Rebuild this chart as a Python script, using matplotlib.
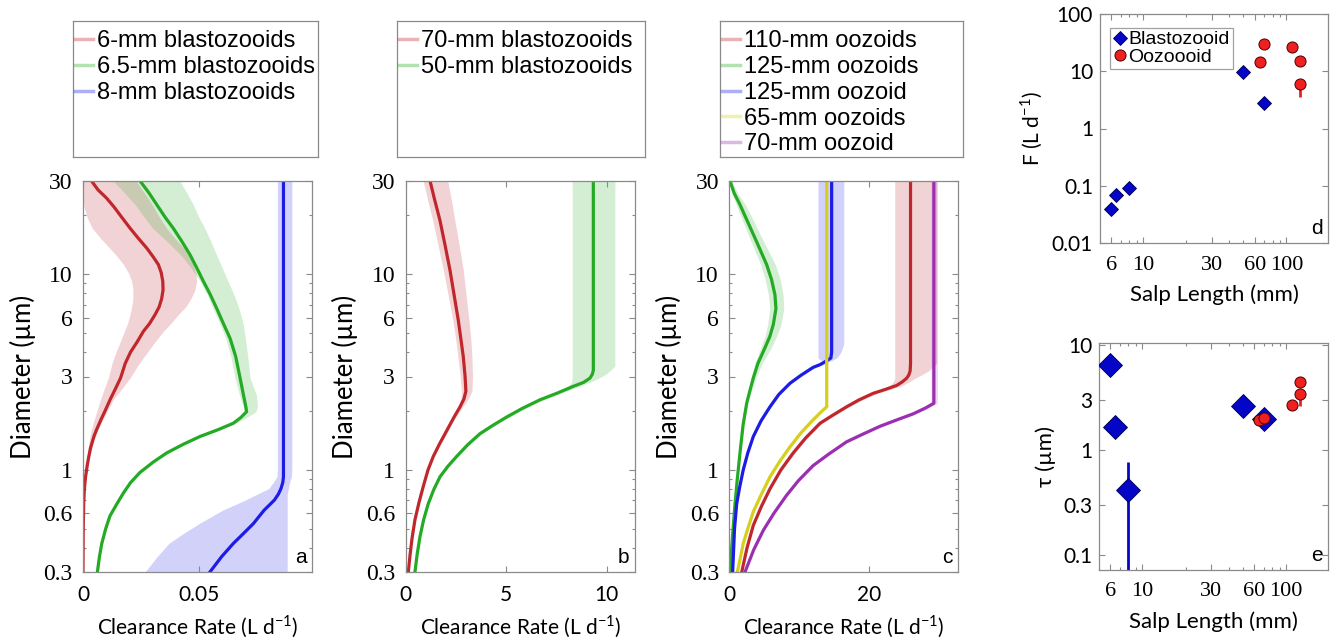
import matplotlib
matplotlib.use("Agg")
import matplotlib.pyplot as plt
from matplotlib.lines import Line2D
from matplotlib.ticker import FixedLocator, NullFormatter, LogLocator

SANS = ["Lato", "DejaVu Sans"]
SERIF = "Liberation Serif"
LEGF = "Liberation Sans"

RED = "#c0272d"
GREEN = "#24aa24"
BLUE = "#1c1ce6"
YELLOW = "#d6cf1e"
PURPLE = "#9b2fb2"
SPINE = "#8a8a8a"

# ---- panel a : clearance rate vs particle diameter (blastozooids) ----
a_red_d = [30, 27, 24.5, 22, 19.5, 17.2, 15.3, 13.6, 12.3, 11.2, 10.2, 9.2, 8.3, 7.5, 6.8, 6.2, 5.6, 5.1, 4.5,
           4.0, 3.5, 2.95, 2.6, 2.3, 2.0, 1.8, 1.6, 1.48, 1.3, 1.17, 1.05, 0.92, 0.8, 0.67, 0.5, 0.3]
a_red_cr = [0.0037, 0.0065, 0.0102, 0.0135, 0.0168, 0.0203, 0.0238, 0.0275, 0.0302, 0.0325, 0.0337, 0.0344,
            0.0345, 0.0339, 0.0328, 0.031, 0.0287, 0.026, 0.0233, 0.0205, 0.0182, 0.0162, 0.014, 0.0118,
            0.0095, 0.0077, 0.0058, 0.0047, 0.0033, 0.0025, 0.0018, 0.0011, 0.0006, 0.0003, 0.0001, 0.0]
a_red_lo = [0.0, 0.0, 0.0, 0.0005, 0.0018, 0.004, 0.0075, 0.0115, 0.0148, 0.0175, 0.0195, 0.021, 0.0215,
            0.0215, 0.021, 0.0202, 0.0192, 0.0178, 0.016, 0.0142, 0.0125, 0.0109, 0.0092, 0.0076, 0.006,
            0.0048, 0.0036, 0.003, 0.0022, 0.0018, 0.0013, 0.0008, 0.0004, 0.0002, 0.0, 0.0]
a_red_hi = [0.023, 0.0255, 0.028, 0.0305, 0.033, 0.036, 0.0395, 0.0435, 0.0458, 0.0475, 0.0486, 0.049,
            0.0482, 0.0465, 0.0442, 0.041, 0.0378, 0.0346, 0.031, 0.0278, 0.0242, 0.0203, 0.0168, 0.0132,
            0.0105, 0.0085, 0.0065, 0.0053, 0.0038, 0.0029, 0.0021, 0.0013, 0.0007, 0.0004, 0.0001, 0.0]

a_grn_d = [30, 26, 22.7, 19.5, 17.2, 14.8, 12.6, 10.8, 9.2, 7.9, 6.7, 5.6, 4.7, 3.8, 2.95, 2.4, 2.1, 1.98,
           1.85, 1.73, 1.6, 1.48, 1.35, 1.22, 1.1, 0.97, 0.86, 0.76, 0.66, 0.58, 0.5, 0.42, 0.36, 0.3]
a_grn_cr = [0.0246, 0.0285, 0.0318, 0.0355, 0.0389, 0.0425, 0.0461, 0.049, 0.0519, 0.0548, 0.0576, 0.0605,
            0.0634, 0.0658, 0.0677, 0.0692, 0.0702, 0.0705, 0.068, 0.0648, 0.058, 0.0504, 0.0432, 0.0361,
            0.0305, 0.0246, 0.0205, 0.0174, 0.0143, 0.0116, 0.0098, 0.0081, 0.0071, 0.0062]
a_grn_lo = [0.0131, 0.018, 0.0225, 0.0265, 0.030, 0.036, 0.042, 0.0465, 0.0505, 0.0535, 0.056, 0.059,
            0.0615, 0.0637, 0.0655, 0.0675, 0.069, 0.0695, 0.067, 0.0638, 0.057, 0.0496, 0.0425, 0.0355,
            0.030, 0.0242, 0.0202, 0.0171, 0.0141, 0.0114, 0.0096, 0.008, 0.007, 0.0061]
a_grn_hi = [0.0418, 0.0448, 0.0475, 0.050, 0.0525, 0.055, 0.0575, 0.060, 0.0625, 0.065, 0.0672, 0.069,
            0.070, 0.071, 0.072, 0.0748, 0.0752, 0.0745, 0.0705, 0.066, 0.059, 0.0514, 0.044, 0.0368,
            0.031, 0.025, 0.0208, 0.0177, 0.0145, 0.0118, 0.010, 0.0082, 0.0072, 0.0063]

a_blu_d = [30, 1.0, 0.92, 0.86, 0.8, 0.75, 0.7, 0.62, 0.53, 0.47, 0.42, 0.36, 0.3]
a_blu_cr = [0.0864, 0.0864, 0.0864, 0.0861, 0.0853, 0.0842, 0.0825, 0.078, 0.0734, 0.069, 0.0648, 0.0598, 0.0547]
a_blu_lo = [0.0838, 0.0838, 0.0836, 0.082, 0.080, 0.075, 0.070, 0.060, 0.050, 0.043, 0.037, 0.032, 0.0267]
a_blu_hi = [0.090, 0.090, 0.0898, 0.089, 0.0885, 0.088, 0.088, 0.088, 0.088, 0.088, 0.088, 0.088, 0.088]

# ---- panel b ----
b_red_d = [30, 24, 18.9, 14, 10.5, 8, 5.84, 4.6, 3.79, 3.0, 2.52, 2.3, 2.1, 1.85, 1.58, 1.35, 1.17, 1.0,
           0.82, 0.68, 0.555, 0.45, 0.37, 0.3]
b_red_cr = [1.22, 1.45, 1.71, 1.97, 2.21, 2.40, 2.62, 2.76, 2.87, 2.96, 3.0, 2.9, 2.71, 2.40, 2.04, 1.68,
            1.38, 1.12, 0.88, 0.67, 0.47, 0.33, 0.23, 0.14]
b_red_lo = [0.88, 1.1, 1.35, 1.62, 1.88, 2.1, 2.35, 2.5, 2.6, 2.72, 2.78, 2.75, 2.62, 2.33, 1.98, 1.63,
            1.34, 1.09, 0.86, 0.65, 0.46, 0.32, 0.22, 0.13]
b_red_hi = [2.1, 2.28, 2.45, 2.67, 2.87, 3.0, 3.15, 3.25, 3.3, 3.33, 3.3, 3.1, 2.85, 2.48, 2.10, 1.73,
            1.42, 1.15, 0.90, 0.69, 0.48, 0.34, 0.24, 0.15]

b_grn_d = [30, 3.4, 3.23, 3.08, 2.94, 2.8, 2.67, 2.47, 2.28, 2.06, 1.86, 1.69, 1.53, 1.34, 1.17, 1.04,
           0.92, 0.79, 0.67, 0.555, 0.455, 0.37, 0.3]
b_grn_cr = [9.33, 9.33, 9.33, 9.28, 9.16, 8.85, 8.33, 7.55, 6.68, 5.8, 5.02, 4.35, 3.70, 3.08, 2.54, 2.1,
            1.71, 1.40, 1.13, 0.9, 0.72, 0.58, 0.47]
b_grn_lo = [8.28, 8.28, 8.28, 8.28, 8.28, 8.25, 8.05, 7.35, 6.55, 5.68, 4.92, 4.27, 3.63, 3.02, 2.49, 2.06,
            1.68, 1.37, 1.11, 0.88, 0.71, 0.57, 0.46]
b_grn_hi = [10.4, 10.4, 10.2, 9.95, 9.6, 9.15, 8.6, 7.75, 6.85, 5.95, 5.15, 4.45, 3.8, 3.15, 2.6, 2.15,
            1.75, 1.43, 1.15, 0.92, 0.73, 0.59, 0.48]

# ---- panel c (oozooids) ----
c_red_d = [30, 3.5, 3.2, 3.05, 2.94, 2.82, 2.7, 2.58, 2.46, 2.28, 2.1, 1.9, 1.73, 1.45, 1.22, 1.0, 0.8,
           0.65, 0.52, 0.4, 0.3]
c_red_cr = [25.96, 25.96, 25.9, 25.7, 25.4, 24.8, 23.97, 22.4, 20.6, 18.6, 16.8, 14.8, 13.0, 10.9, 9.16,
            7.4, 5.83, 4.6, 3.44, 2.55, 1.78]
c_red_lo = [23.7, 23.7, 23.7, 23.7, 23.7, 23.5, 23.0, 21.7, 20.1, 18.2, 16.4, 14.5, 12.7, 10.65, 8.95,
            7.25, 5.7, 4.5, 3.36, 2.5, 1.73]
c_red_hi = [29.7, 29.7, 28.5, 27.5, 26.6, 25.8, 24.8, 23.1, 21.2, 19.1, 17.2, 15.15, 13.3, 11.15, 9.4,
            7.6, 5.97, 4.7, 3.52, 2.62, 1.83]

c_grn_d = [30, 26, 22.7, 19, 16.0, 13.4, 11.2, 9.4, 7.85, 6.67, 5.53, 4.8, 4.2, 3.5, 2.95, 2.5, 2.19,
           1.7, 1.22, 0.9, 0.67, 0.45, 0.3]
c_grn_cr = [0.1, 0.7, 1.53, 2.5, 3.44, 4.4, 5.35, 6.05, 6.54, 6.68, 6.3, 5.8, 5.1, 4.1, 3.44, 2.9, 2.49,
            1.98, 1.53, 1.15, 0.82, 0.45, 0.1]
c_grn_lo = [0.0, 0.35, 1.0, 1.85, 2.7, 3.6, 4.5, 5.15, 5.6, 5.8, 5.5, 5.1, 4.5, 3.65, 3.15, 2.7, 2.35,
            1.9, 1.47, 1.1, 0.79, 0.43, 0.09]
c_grn_hi = [0.35, 1.2, 2.3, 3.4, 4.4, 5.5, 6.6, 7.3, 7.7, 7.8, 7.4, 6.75, 6.0, 4.7, 3.8, 3.1, 2.65,
            2.08, 1.6, 1.2, 0.85, 0.47, 0.11]

c_blu_d = [30, 4.4, 4.0, 3.73, 3.6, 3.45, 3.34, 3.05, 2.77, 2.43, 2.1, 1.78, 1.48, 1.22, 1.0, 0.82,
           0.67, 0.5, 0.3]
c_blu_cr = [14.66, 14.66, 14.66, 14.55, 13.9, 13.0, 12.0, 10.3, 8.69, 7.1, 5.83, 4.55, 3.44, 2.65, 2.0,
            1.5, 1.06, 0.75, 0.48]
c_blu_lo = [12.7, 12.7, 12.7, 12.7, 13.3, 12.6, 11.7, 10.05, 8.5, 6.95, 5.7, 4.45, 3.37, 2.6, 1.96,
            1.47, 1.04, 0.73, 0.47]
c_blu_hi = [16.4, 16.4, 16.0, 15.4, 14.5, 13.4, 12.3, 10.55, 8.9, 7.25, 5.95, 4.65, 3.5, 2.7, 2.04,
            1.53, 1.08, 0.77, 0.49]

c_yel_d = [30, 2.1, 2.0, 1.8, 1.55, 1.31, 1.1, 0.92, 0.75, 0.61, 0.5, 0.42, 0.35, 0.3]
c_yel_cr = [13.95, 13.95, 13.3, 12.0, 10.3, 8.69, 7.2, 5.83, 4.6, 3.44, 2.65, 2.0, 1.55, 1.15]
c_yel_lo = [13.8, 13.8, 13.15, 11.85, 10.17, 8.55, 7.1, 5.72, 4.52, 3.37, 2.6, 1.95, 1.51, 1.12]
c_yel_hi = [14.1, 14.1, 13.45, 12.15, 10.43, 8.83, 7.3, 5.94, 4.68, 3.51, 2.7, 2.05, 1.59, 1.18]

c_pur_d = [30, 2.19, 2.07, 1.93, 1.8, 1.67, 1.52, 1.39, 1.2, 1.05, 0.88, 0.74, 0.6, 0.49, 0.39, 0.3]
c_pur_cr = [29.3, 29.3, 28.1, 26.3, 24.0, 21.6, 19.1, 16.8, 14.2, 12.0, 9.9, 8.2, 6.4, 4.87, 3.5, 2.25]
c_pur_lo = [28.9, 28.9, 27.8, 26.0, 23.75, 21.35, 18.9, 16.6, 14.0, 11.85, 9.8, 8.1, 6.3, 4.8, 3.45, 2.22]
c_pur_hi = [29.8, 29.8, 28.5, 26.6, 24.3, 21.85, 19.35, 17.0, 14.4, 12.15, 10.05, 8.3, 6.5, 4.94, 3.55, 2.28]

leg_a = ["6-mm blastozooids", "6.5-mm blastozooids", "8-mm blastozooids"]
leg_b = ["70-mm blastozooids", "50-mm blastozooids"]
leg_c = ["110-mm oozoids", "125-mm oozoids", "125-mm oozoid", "65-mm oozoids", "70-mm oozoid"]

# ---- panels d, e : fitted parameters vs salp length ----
blasto_len = [6, 6.5, 8, 50, 70]
blasto_F = [0.039, 0.07, 0.09, 9.6, 2.8]
blasto_tau = [6.4, 1.64, 0.42, 2.6, 1.96]
blasto_tau_lo = [6.4, 1.64, 0.01, 2.6, 1.96]
blasto_tau_hi = [6.4, 1.64, 0.77, 2.6, 1.96]

ooz_len = [65, 70, 110, 125, 125]
ooz_F = [14.7, 30, 27, 15, 6.0]
ooz_F_lo = [14.7, 30, 27, 15, 3.5]
ooz_tau = [1.93, 2.0, 2.68, 4.45, 3.4]
ooz_tau_lo = [1.93, 2.0, 2.68, 4.45, 2.6]

diam_ticks = [0.3, 0.6, 1, 3, 6, 10, 30]
len_ticks = [6, 10, 30, 60, 100]

W, H = 1336, 643
fig = plt.figure(figsize=(W / 100, H / 100), dpi=100)


def px_axes(x0, y0, x1, y1):
    return fig.add_axes([x0 / W, 1 - y1 / H, (x1 - x0) / W, (y1 - y0) / H])


def style(ax):
    for s in ax.spines.values():
        s.set_color(SPINE)
        s.set_linewidth(0.9)
    ax.tick_params(which="both", direction="in", top=True, right=True,
                   color=SPINE, width=0.8)
    ax.tick_params(which="major", length=4)
    ax.tick_params(which="minor", length=2.5)


def curve_panel(ax, curves, xmax, xticks, xlabels, letter):
    for d, cr, lo, hi, col in curves:
        ax.fill_betweenx(d, lo, hi, color=col, alpha=0.2, lw=0)
    for d, cr, lo, hi, col in curves:
        ax.plot(cr, d, color=col, lw=2.3, solid_joinstyle="round")
    ax.set_yscale("log")
    ax.set_ylim(0.3, 30)
    ax.set_xlim(0, xmax)
    style(ax)
    ax.yaxis.set_major_locator(FixedLocator(diam_ticks))
    ax.yaxis.set_minor_locator(LogLocator(subs=range(2, 10)))
    ax.yaxis.set_minor_formatter(NullFormatter())
    ax.set_yticklabels([str(t) for t in diam_ticks], fontfamily=SERIF, fontsize=17)
    ax.set_xticks(xticks)
    ax.set_xticklabels(xlabels, fontfamily=SANS, fontsize=15)
    ax.tick_params(axis="y", pad=7.5)
    ax.tick_params(axis="x", pad=9.5)
    ax.set_xlabel("Clearance Rate (L d$^{\\mathregular{-1}}$)", fontfamily=SANS,
                  fontsize=15, labelpad=6.5)
    ax.set_ylabel("Diameter (\u00b5m)", fontfamily=SANS, fontsize=18.5, labelpad=5.5)
    ax.text(0.975, 0.012, letter, transform=ax.transAxes, ha="right", va="bottom",
            fontfamily=LEGF, fontsize=15)


def legend_box(x0, x1, labels, colors):
    bx = px_axes(x0, 21, x1, 157)
    bx.set_xticks([])
    bx.set_yticks([])
    for s in bx.spines.values():
        s.set_color(SPINE)
        s.set_linewidth(0.9)
    handles = [Line2D([0], [0], color=c, alpha=0.35, lw=2.5) for c in colors]
    bx.legend(handles, labels, loc="upper left", bbox_to_anchor=(0, 1 - 7 / 136),
              frameon=False, borderaxespad=0, borderpad=0.1, handlelength=0.75,
              handletextpad=0.15, labelspacing=0.16, prop={"family": LEGF, "size": 17})


ax_a = px_axes(83, 181, 312, 572)
curve_panel(ax_a, [(a_red_d, a_red_cr, a_red_lo, a_red_hi, RED),
                   (a_grn_d, a_grn_cr, a_grn_lo, a_grn_hi, GREEN),
                   (a_blu_d, a_blu_cr, a_blu_lo, a_blu_hi, BLUE)],
            0.0987, [0, 0.05], ["0", "0.05"], "a")

ax_b = px_axes(405.5, 181, 635, 572)
curve_panel(ax_b, [(b_red_d, b_red_cr, b_red_lo, b_red_hi, RED),
                   (b_grn_d, b_grn_cr, b_grn_lo, b_grn_hi, GREEN)],
            11.4, [0, 5, 10], ["0", "5", "10"], "b")

ax_c = px_axes(729.3, 181, 958.3, 572)
curve_panel(ax_c, [(c_red_d, c_red_cr, c_red_lo, c_red_hi, RED),
                   (c_grn_d, c_grn_cr, c_grn_lo, c_grn_hi, GREEN),
                   (c_blu_d, c_blu_cr, c_blu_lo, c_blu_hi, BLUE),
                   (c_yel_d, c_yel_cr, c_yel_lo, c_yel_hi, YELLOW),
                   (c_pur_d, c_pur_cr, c_pur_lo, c_pur_hi, PURPLE)],
            32.8, [0, 20], ["0", "20"], "c")

legend_box(73, 318, leg_a, [RED, GREEN, BLUE])
legend_box(397, 645, leg_b, [RED, GREEN])
legend_box(720, 963, leg_c, [RED, GREEN, BLUE, YELLOW, PURPLE])


def scatter_panel(ax, yticks, ylabels, ylim, letter):
    ax.set_xscale("log")
    ax.set_yscale("log")
    ax.set_xlim(5, 195)
    ax.set_ylim(*ylim)
    style(ax)
    ax.xaxis.set_major_locator(FixedLocator(len_ticks))
    ax.xaxis.set_minor_locator(LogLocator(subs=range(2, 10)))
    ax.xaxis.set_minor_formatter(NullFormatter())
    ax.set_xticklabels([str(t) for t in len_ticks], fontfamily=SERIF, fontsize=16)
    ax.yaxis.set_major_locator(FixedLocator(yticks))
    ax.yaxis.set_minor_locator(FixedLocator([]))
    ax.set_yticklabels(ylabels, fontfamily=SANS, fontsize=15)
    ax.tick_params(axis="y", pad=5)
    ax.tick_params(axis="x", pad=9)
    ax.set_xlabel("Salp Length (mm)", fontfamily=SANS, fontsize=16, labelpad=7)
    ax.text(0.975, 0.02, letter, transform=ax.transAxes, ha="right", va="bottom",
            fontfamily=LEGF, fontsize=15)


ax_d = px_axes(1100, 14, 1328, 243)
ax_d.errorbar(ooz_len, ooz_F, yerr=[[f - l for f, l in zip(ooz_F, ooz_F_lo)], [0] * 5],
              fmt="none", ecolor="#ee2020", elinewidth=2, capsize=0, zorder=2)
hb, = ax_d.plot(blasto_len, blasto_F, "D", ms=7, mfc="#0505c8", mec="#000050",
                mew=0.6, ls="none", zorder=3)
ho, = ax_d.plot(ooz_len, ooz_F, "o", ms=8, mfc="#ee2020", mec="#500000",
                mew=0.7, ls="none", zorder=3)
scatter_panel(ax_d, [0.01, 0.1, 1, 10, 100], ["0.01", "0.1", "1", "10", "100"],
              (0.01, 100), "d")
ax_d.set_ylabel("F (L d$^{\\mathregular{-1}}$)", fontfamily=SANS, fontsize=15, labelpad=5)
leg = ax_d.legend([hb, ho], ["Blastozooid", "Oozoooid"], loc="upper left",
                  bbox_to_anchor=(0.044, 0.939), borderaxespad=0, borderpad=0.15,
                  handlelength=0.7, handletextpad=0.1, labelspacing=0.0,
                  fancybox=False, prop={"family": LEGF, "size": 14})
leg.get_frame().set_edgecolor(SPINE)
leg.get_frame().set_linewidth(0.9)

ax_e = px_axes(1099, 342.7, 1328, 570)
ax_e.errorbar(blasto_len, blasto_tau,
              yerr=[[t - l for t, l in zip(blasto_tau, blasto_tau_lo)],
                    [h - t for t, h in zip(blasto_tau, blasto_tau_hi)]],
              fmt="none", ecolor="#0505c8", elinewidth=2, capsize=0, zorder=2)
ax_e.errorbar(ooz_len, ooz_tau, yerr=[[t - l for t, l in zip(ooz_tau, ooz_tau_lo)], [0] * 5],
              fmt="none", ecolor="#ee2020", elinewidth=2, capsize=0, zorder=2)
ax_e.plot(blasto_len, blasto_tau, "D", ms=12, mfc="#0505c8", mec="#000050",
          mew=0.6, ls="none", zorder=3)
ax_e.plot(ooz_len, ooz_tau, "o", ms=8, mfc="#ee2020", mec="#500000",
          mew=0.7, ls="none", zorder=4)
scatter_panel(ax_e, [0.1, 0.3, 1, 3, 10], ["0.1", "0.3", "1", "3", "10"],
              (0.072, 10.5), "e")
ax_e.set_ylabel("\u03c4 (\u00b5m)", fontfamily=SANS, fontsize=16, labelpad=5)

fig.savefig("out.png", dpi=100)
